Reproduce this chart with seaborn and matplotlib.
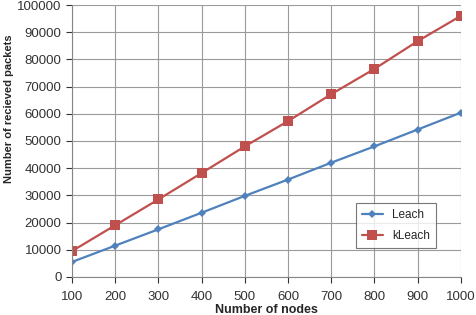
import matplotlib
matplotlib.use("Agg")
import matplotlib.pyplot as plt
import pandas as pd
import seaborn as sns

# Data
nodes = [100, 200, 300, 400, 500, 600, 700, 800, 900, 1000]
leach = [5500, 11500, 17500, 23600, 29800, 35800, 42000, 48000, 54200, 60400]
kleach = [9500, 19000, 28500, 38200, 48000, 57300, 67200, 76500, 86700, 96000]

df = pd.DataFrame({"nodes": nodes * 2,
                   "packets": leach + kleach,
                   "protocol": ["Leach"] * len(nodes) + ["kLeach"] * len(nodes)})

sns.set_style("white")
plt.rcParams["font.family"] = ["Liberation Sans", "DejaVu Sans"]

fig = plt.figure(figsize=(4.77, 3.15), dpi=100)
ax = fig.add_axes([0.151, 0.121, 0.815, 0.863])

sns.lineplot(data=df, x="nodes", y="packets", hue="protocol", style="protocol",
             palette={"Leach": "#4F81BD", "kLeach": "#C0504D"},
             markers={"Leach": "D", "kLeach": "s"}, dashes=False,
             markersize=5, linewidth=1.6, markeredgewidth=0, ax=ax)
# square markers a bit larger, like the reference
for line in ax.lines:
    if line.get_marker() == "s":
        line.set_markersize(7)
    elif line.get_marker() == "D":
        line.set_markersize(4.5)

ax.set_xlim(100, 1000)
ax.set_ylim(0, 100000)
ax.set_xticks(nodes)
ax.set_yticks(range(0, 100001, 10000))
ax.grid(True, color="#9a9a9a", linewidth=0.8)
for s in ["top", "right"]:
    ax.spines[s].set_visible(False)
for s in ["left", "bottom"]:
    ax.spines[s].set_color("#868686")
ax.tick_params(axis="both", labelsize=9.5, colors="#333333", length=4,
               direction="out", left=True, bottom=True)
ax.tick_params(axis="x", pad=6)
ax.set_xlabel("Number of nodes", fontsize=9, fontweight="bold", labelpad=1)
ax.set_ylabel("Number of recieved packets", fontsize=8, fontweight="bold")
ax.yaxis.set_label_coords(-0.148, 0.62)

leg = ax.legend(loc="upper left", bbox_to_anchor=(0.73, 0.272), fontsize=8.5,
                frameon=True, fancybox=False, handlelength=1.8,
                labelspacing=0.8, borderpad=0.5, borderaxespad=0)
leg.get_frame().set_edgecolor("#555555")
leg.get_frame().set_linewidth(0.8)

fig.savefig("out.png", dpi=100)
